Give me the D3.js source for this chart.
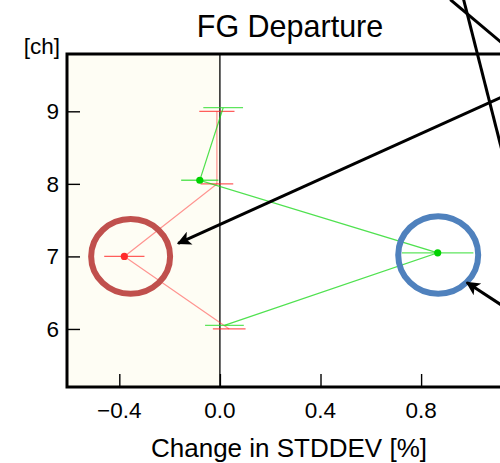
<!DOCTYPE html>
<html>
<head>
<meta charset="utf-8">
<script src="https://cdn.jsdelivr.net/npm/d3@7"></script>
<style>
  body { margin: 0; background: #fff; }
  svg { display: block; font-family: "Liberation Sans", Arial, sans-serif; }
</style>
</head>
<body>
<svg width="500" height="463"></svg>
<script>
'use strict'

// channels and the two series (change in stddev, %)
var channels = [6, 7, 8, 9];
var redMean = [0.037, -0.38, -0.012, -0.012];
var redErr = [0.065, 0.08, 0.065, 0.07];
var redSig = [false, true, false, false];
var greenMean = [0.018, 0.866, -0.08, 0.013];
var greenErr = [0.077, 0.142, 0.074, 0.079];
var greenSig = [false, true, true, false];

var xTicks = [-0.4, 0.0, 0.4, 0.8];
var yTicks = [6, 7, 8, 9];

// highlight rings and arrows, in data units
var rings = [
  {cx: -0.355, cy: 7.0, rx: 0.157, ry: 0.515, color: "#c0504d"},
  {cx: 0.868, cy: 7.02, rx: 0.159, ry: 0.535, color: "#4f81bd"}
];
var arrows = [
  {x1: 1.36, y1: 9.57, x2: -0.166, y2: 7.18, head: true},
  {x1: 1.345, y1: 5.82, x2: 0.982, y2: 6.64, head: true},
  {x1: 0.916, y1: 10.54, x2: 1.345, y2: 9.29, head: false},
  {x1: 0.969, y1: 10.54, x2: 1.147, y2: 8.11, head: false}
];

var svg = d3.select("svg"),
  margin = {top: 54, left: 67, bottom: 76},
  plotRight = 530,
  width = plotRight - margin.left,
  height = +svg.attr("height") - margin.top - margin.bottom;

var x = d3.scaleLinear().domain([-0.608, 1.233]).range([0, width]);
var y = d3.scaleLinear().domain([5.2, 9.79]).range([height, 0]);
var dodge = -3.6; // green drawn just above the channel line

var defs = svg.append("defs");
defs.append("clipPath").attr("id", "clip")
  .append("rect").attr("width", width).attr("height", height);
defs.append("marker")
  .attr("id", "head")
  .attr("viewBox", "0 0 10 10")
  .attr("refX", 9).attr("refY", 5)
  .attr("markerUnits", "userSpaceOnUse")
  .attr("markerWidth", 18).attr("markerHeight", 14)
  .attr("orient", "auto")
  .append("path").attr("d", "M0,0 L10,5 L0,10 L2.5,5 Z").attr("fill", "#000");

var g = svg.append("g")
  .attr("transform", "translate(" + margin.left + "," + margin.top + ")");

var plot = g.append("g").attr("clip-path", "url(#clip)");

// shaded negative half
plot.append("rect")
  .attr("x", 0).attr("y", 0)
  .attr("width", x(0)).attr("height", height)
  .attr("fill", "#fefdf4");

plot.append("line")
  .attr("x1", x(0)).attr("x2", x(0))
  .attr("y1", 0).attr("y2", height)
  .attr("stroke", "#000").attr("stroke-width", 1.3);

// ticks (inward)
var xAxis = d3.axisTop(x).tickValues(xTicks).tickSize(13).tickFormat("");
g.append("g").attr("transform", "translate(0," + height + ")").call(xAxis)
  .call(function(s) { s.select(".domain").remove(); s.selectAll("line").attr("stroke-width", 1.4); });
var yAxis = d3.axisRight(y).tickValues(yTicks).tickSize(13).tickFormat("");
g.append("g").call(yAxis)
  .call(function(s) { s.select(".domain").remove(); s.selectAll("line").attr("stroke-width", 1.4); });

function drawSeries(mean, err, sig, off, lineCol, barCol, dotCol) {
  var data = channels.map(function(c, i) {
    return {ch: c, v: mean[i], e: err[i], sig: sig[i]};
  });
  var line = d3.line()
    .x(function(d) { return x(d.v); })
    .y(function(d) { return y(d.ch) + off; });
  plot.append("path").datum(data)
    .attr("d", line)
    .attr("fill", "none")
    .attr("stroke", lineCol).attr("stroke-width", 1.2);
  plot.selectAll(null).data(data).enter().append("line")
    .attr("x1", function(d) { return x(d.v - d.e); })
    .attr("x2", function(d) { return x(d.v + d.e); })
    .attr("y1", function(d) { return y(d.ch) + off; })
    .attr("y2", function(d) { return y(d.ch) + off; })
    .attr("stroke", barCol).attr("stroke-width", 1.3);
  plot.selectAll(null).data(data.filter(function(d) { return d.sig; })).enter().append("circle")
    .attr("cx", function(d) { return x(d.v); })
    .attr("cy", function(d) { return y(d.ch) + off; })
    .attr("r", 3.6)
    .attr("fill", dotCol);
}

drawSeries(redMean, redErr, redSig, 0, "rgba(255,60,60,0.55)", "rgba(255,40,40,0.75)", "#ff2b2b");
drawSeries(greenMean, greenErr, greenSig, dodge, "rgba(20,215,20,0.75)", "rgba(40,220,40,0.75)", "#00d200");

// rings
g.selectAll(null).data(rings).enter().append("ellipse")
  .attr("cx", function(d) { return x(d.cx); })
  .attr("cy", function(d) { return y(d.cy); })
  .attr("rx", function(d) { return x(d.rx) - x(0); })
  .attr("ry", function(d) { return y(0) - y(d.ry) ; })
  .attr("fill", "none")
  .attr("stroke", function(d) { return d.color; })
  .attr("stroke-width", 6);

// frame
g.append("rect")
  .attr("width", width).attr("height", height)
  .attr("fill", "none").attr("stroke", "#000").attr("stroke-width", 3);

// arrows
g.selectAll(null).data(arrows).enter().append("line")
  .attr("x1", function(d) { return x(d.x1); })
  .attr("y1", function(d) { return y(d.y1); })
  .attr("x2", function(d) { return x(d.x2); })
  .attr("y2", function(d) { return y(d.y2); })
  .attr("stroke", "#000").attr("stroke-width", 3)
  .attr("marker-end", function(d) { return d.head ? "url(#head)" : null; });

// tick labels
g.selectAll(null).data(xTicks).enter().append("text")
  .attr("x", function(d) { return x(d); })
  .attr("y", height + 31)
  .attr("text-anchor", "middle")
  .attr("font-size", 22.5)
  .text(function(d) { return d3.format(".1f")(d).replace("-", "\u2212"); });
g.selectAll(null).data(yTicks).enter().append("text")
  .attr("x", -8)
  .attr("y", function(d) { return y(d) + 8; })
  .attr("text-anchor", "end")
  .attr("font-size", 22.5)
  .text(function(d) { return d; });

svg.append("text")
  .attr("x", 290).attr("y", 37)
  .attr("text-anchor", "middle")
  .attr("font-size", 30.5)
  .text("FG Departure");
svg.append("text")
  .attr("x", 60).attr("y", 54)
  .attr("text-anchor", "end")
  .attr("font-size", 22.5)
  .text("[ch]");
svg.append("text")
  .attr("x", 289).attr("y", 457)
  .attr("text-anchor", "middle")
  .attr("font-size", 26)
  .text("Change in STDDEV [%]");
</script>
</body>
</html>
